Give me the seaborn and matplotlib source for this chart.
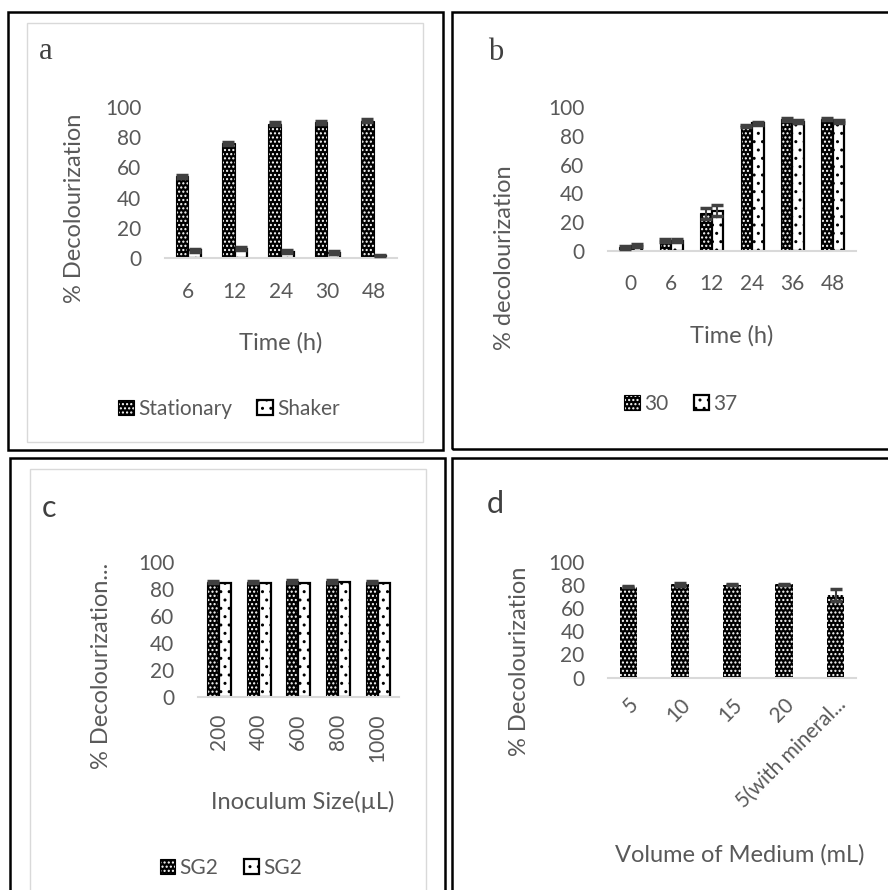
import numpy as np
import pandas as pd
import matplotlib
matplotlib.use("Agg")
import matplotlib.pyplot as plt
from matplotlib.patches import Rectangle
import seaborn as sns

# panel a: agitation
time_a = ["6", "12", "24", "30", "48"]
stationary = [54, 76, 89, 90, 91]
stationary_err = [1.0, 1.0, 1.0, 1.0, 1.0]
shaker = [5, 6, 4, 3.5, 1.5]
shaker_err = [1.0, 1.0, 1.0, 1.0, 0.5]

# panel b: temperature
time_b = ["0", "6", "12", "24", "36", "48"]
temp30 = [2.3, 7, 26, 87, 91.5, 92]
temp30_err = [0.8, 1.0, 4.0, 0.8, 0.8, 0.8]
temp37 = [3.5, 7, 28, 88.8, 90, 90]
temp37_err = [1.0, 1.0, 4.0, 0.8, 0.8, 0.8]

# panel c: inoculum size
inoc = ["200", "400", "600", "800", "1000"]
sg2_a = [85, 85, 85.5, 85.5, 85]
sg2_b = [84, 84.5, 84.5, 85, 84]
sg2_err = [1.0, 1.0, 1.0, 1.0, 1.0]

# panel d: volume of medium
volume = ["5", "10", "15", "20", "5(with mineral..."]
vol_val = [78.5, 80.5, 80, 80.5, 71.5]
vol_err = [0.5, 1.5, 0.5, 0.5, 5.0]

TXT = "#595959"
FONT = ["Lato", "DejaVu Sans"]
TICK_FS = 15
LAB_FS = 17

sns.set_style("white")
plt.rcParams["font.family"] = FONT
plt.rcParams["hatch.linewidth"] = 1.0

fig = plt.figure(figsize=(8.88, 8.90), dpi=100)


def fx(px):
    return px / 888


def fy(py):
    return 1 - py / 890


def style_dark(p):
    p.set_facecolor("black")
    p.set_edgecolor("black")
    p.set_linewidth(0.8)
    p.set_hatch("....")
    p._hatch_color = (1, 1, 1, 1)


def style_light(p):
    p.set_facecolor("white")
    p.set_edgecolor("black")
    p.set_linewidth(1.6)
    p.set_hatch("..")


def errbars(ax, container, err):
    xs = [p.get_x() + p.get_width() / 2 for p in container]
    ys = [p.get_height() for p in container]
    ax.errorbar(xs, ys, yerr=err, fmt="none", ecolor="#404040",
                elinewidth=1.5, capsize=4, capthick=2.5, zorder=5)


def base_axes(rect):
    ax = fig.add_axes(rect)
    ax.set_ylim(0, 100)
    ax.set_yticks([0, 20, 40, 60, 80, 100])
    sns.despine(ax=ax, left=True)
    ax.spines["bottom"].set_color("#d9d9d9")
    ax.spines["bottom"].set_linewidth(1.5)
    ax.tick_params(axis="both", length=0, labelsize=TICK_FS, colors=TXT)
    ax.tick_params(axis="x", pad=17)
    ax.tick_params(axis="y", pad=17)
    return ax


def long_df(cats, series, names):
    rows = []
    for name, vals in zip(names, series):
        for c, v in zip(cats, vals):
            rows.append({"cat": c, "val": v, "series": name})
    return pd.DataFrame(rows)


def add_legend(ax, labels, x, y):
    fig.legend(ax.containers[:2], labels, loc="center",
               bbox_to_anchor=(fx(x), fy(y)), ncol=2, frameon=False,
               fontsize=TICK_FS, labelcolor=TXT, handlelength=0.75,
               handleheight=0.75, handletextpad=0.2, columnspacing=1.2)


# ---------- frames ----------
frames = [(8, 12, 443, 450), (452, 12, 890, 449), (10, 458, 445, 892), (452, 458, 890, 892)]
for x0, y0, x1, y1 in frames:
    fig.patches.append(Rectangle((fx(x0), fy(y1)), fx(x1 - x0), (y1 - y0) / 890,
                                 transform=fig.transFigure, fill=False,
                                 edgecolor="black", linewidth=1.8))
for x0, y0, x1, y1 in [(27, 23, 423, 442), (30, 469, 426, 892)]:
    fig.patches.append(Rectangle((fx(x0), fy(y1)), fx(x1 - x0), (y1 - y0) / 890,
                                 transform=fig.transFigure, fill=False,
                                 edgecolor="#d9d9d9", linewidth=1.0))

# ---------- panel a ----------
ax = base_axes([fx(165), fy(258), fx(232), 151 / 890])
df = long_df(time_a, [stationary, shaker], ["Stationary", "Shaker"])
sns.barplot(data=df, x="cat", y="val", hue="series", order=time_a,
            hue_order=["Stationary", "Shaker"], width=0.55, errorbar=None,
            legend=False, ax=ax)
for p in ax.containers[0]:
    style_dark(p)
for p in ax.containers[1]:
    style_light(p)
errbars(ax, ax.containers[0], stationary_err)
errbars(ax, ax.containers[1], shaker_err)
ax.set_xlabel("Time (h)", fontsize=LAB_FS, color=TXT, va="top")
ax.xaxis.set_label_coords(0.5, -0.49)
ax.set_ylabel("% Decolourization", fontsize=LAB_FS, color=TXT)
ax.yaxis.set_label_coords(-0.345, 0.33)
add_legend(ax, ["Stationary", "Shaker"], 229, 409)
fig.text(fx(39), fy(59), "a", family=["Liberation Serif"], fontsize=22,
         color="#404040", va="baseline")

# ---------- panel b ----------
ax = base_axes([fx(608), fy(250.7), fx(247.7), 143.4 / 890])
df = long_df(time_b, [temp30, temp37], ["30", "37"])
sns.barplot(data=df, x="cat", y="val", hue="series", order=time_b,
            hue_order=["30", "37"], width=0.57, errorbar=None,
            legend=False, ax=ax)
for p in ax.containers[0]:
    style_dark(p)
for p in ax.containers[1]:
    style_light(p)
errbars(ax, ax.containers[0], temp30_err)
errbars(ax, ax.containers[1], temp37_err)
ax.set_xlabel("Time (h)", fontsize=LAB_FS, color=TXT, va="top")
ax.xaxis.set_label_coords(0.5, -0.52)
ax.set_ylabel("% decolourization", fontsize=LAB_FS, color=TXT)
ax.yaxis.set_label_coords(-0.375, -0.05)
add_legend(ax, ["30", "37"], 681, 404)
fig.text(fx(488), fy(60), "b", family=["Liberation Serif"], fontsize=22,
         color="#404040", va="baseline")

# ---------- panel c ----------
ax = base_axes([fx(198), fy(696.7), fx(200.7), 135 / 890])
df = long_df(inoc, [sg2_a, sg2_b], ["SG2 (1)", "SG2 (2)"])
sns.barplot(data=df, x="cat", y="val", hue="series", order=[""] + inoc,
            hue_order=["SG2 (1)", "SG2 (2)"], width=0.6, errorbar=None,
            legend=False, ax=ax)
for p in ax.containers[0]:
    style_dark(p)
for p in ax.containers[1]:
    style_light(p)
errbars(ax, ax.containers[0], sg2_err)
ax.tick_params(axis="x", rotation=90, pad=12)
ax.set_xlabel("Inoculum Size(\u00b5L)", fontsize=LAB_FS, color=TXT, va="top")
ax.xaxis.set_label_coords(0.52, -0.7)
ax.set_ylabel("% Decolourization...", fontsize=LAB_FS, color=TXT)
ax.yaxis.set_label_coords(-0.43, 0.23)
add_legend(ax, ["SG2", "SG2"], 231, 868)
fig.text(fx(42), fy(517), "c", fontsize=22, color="#404040", va="baseline")

# ---------- panel d ----------
ax = base_axes([fx(608.3), fy(677.7), fx(247.4), 116 / 890])
df = pd.DataFrame({"cat": volume, "val": vol_val})
sns.barplot(data=df, x="cat", y="val", order=volume, width=0.34,
            errorbar=None, ax=ax)
for p in ax.containers[0]:
    style_dark(p)
    p.set_linewidth(0)
errbars(ax, ax.containers[0], vol_err)
ax.tick_params(axis="x", pad=12)
for lab in ax.get_xticklabels():
    lab.set_rotation(45)
    lab.set_ha("right")
    lab.set_rotation_mode("anchor")
ax.set_xlabel("Volume of Medium (mL)", fontsize=LAB_FS, color=TXT, va="top")
ax.xaxis.set_label_coords(0.53, -1.43)
ax.set_ylabel("% Decolourization", fontsize=LAB_FS, color=TXT)
ax.yaxis.set_label_coords(-0.316, 0.14)
fig.text(fx(487), fy(513), "d", fontsize=22, color="#404040", va="baseline")

fig.savefig("out.png", dpi=100)
